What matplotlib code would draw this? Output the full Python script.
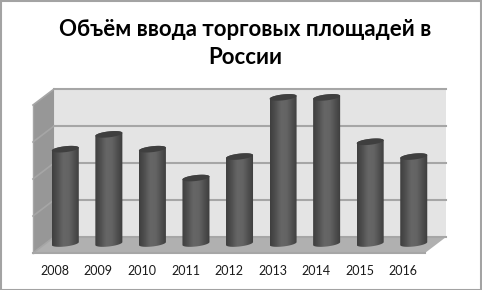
import numpy as np
import matplotlib

matplotlib.use('Agg')
import matplotlib.pyplot as plt
from matplotlib.colors import LinearSegmentedColormap
from matplotlib.patches import PathPatch, Polygon, Rectangle
from matplotlib.path import Path

plt.rcParams['font.family'] = ['Lato', 'Open Sans', 'DejaVu Sans']

years = ['2008', '2009', '2010', '2011', '2012', '2013', '2014', '2015', '2016']
values = [2.55, 2.95, 2.55, 1.77, 2.35, 3.95, 3.95, 2.75, 2.35]
grid_levels = [0, 1, 2, 3, 4]
title_lines = ['Объём ввода торговых площадей в', 'России']

# depth of the fake 3D box, in data units
DX = 0.483
DY = 0.432
BAR_A = 0.31
BAR_B = 0.08
BAR_TILT = 0.04
BAR_LIFT = 0.04

bar_cmap = LinearSegmentedColormap.from_list(
    'cyl', ['#3e3e3e', '#505050', '#666666', '#646464', '#505050', '#3c3c3c'])


def project(x, y, depth):
    return x + depth * DX, y + depth * DY


def ellipse_xy(cx, cy, t):
    return cx + BAR_A * np.cos(t), cy + BAR_B * np.sin(t) + BAR_TILT * np.cos(t)


def draw_bar(ax, i, value):
    cx, base = project(i, 0, 0.5)
    base = base + BAR_LIFT
    top = base + value
    # outline: lower half of the bottom ellipse then back over the top
    t_low = np.linspace(np.pi, 2 * np.pi, 40)
    t_top = np.linspace(0, np.pi, 40)
    xb, yb = ellipse_xy(cx, base, t_low)
    xt, yt = ellipse_xy(cx, top, t_top)
    body = Path(np.column_stack([np.r_[xb, xt], np.r_[yb, yt]]))

    grad = np.linspace(0, 1, 64).reshape(1, -1)
    im = ax.imshow(grad, cmap=bar_cmap, aspect='auto', zorder=4,
                   extent=(cx - BAR_A, cx + BAR_A, base - 0.3, top + 0.3))
    patch = PathPatch(body, transform=ax.transData, fc='none', ec='none')
    ax.add_patch(patch)
    im.set_clip_path(patch)
    im.set_clip_box(fig.bbox)

    t = np.linspace(0, 2 * np.pi, 80)
    xc, yc = ellipse_xy(cx, top, t)
    ax.fill(xc, yc, color='#3f3f3f', lw=0, zorder=5, clip_on=False)


fig = plt.figure(figsize=(4.82, 2.9), dpi=100)
ax = fig.add_axes([33 / 482, (290 - 253) / 290, 392 / 482, 148 / 290])

x0, x1 = -0.5, 8.5
y0, y1 = grid_levels[0], grid_levels[-1]

back = [project(x0, y0, 1), project(x1, y0, 1), project(x1, y1, 1), project(x0, y1, 1)]
left = [(x0, y0), project(x0, y0, 1), project(x0, y1, 1), (x0, y1)]
floor = [(x0, y0), (x1, y0), project(x1, y0, 1), project(x0, y0, 1)]
ax.add_patch(Polygon(back, fc='#e4e4e4', ec='none', zorder=1, clip_on=False))
ax.add_patch(Polygon(left, fc='#979797', ec='none', zorder=1, clip_on=False))
ax.add_patch(Polygon(floor, fc='#b0b0b0', ec='none', zorder=2, clip_on=False))

for level in grid_levels:
    xa, ya = project(x0, level, 1)
    xb, yb = project(x1, level, 1)
    ax.plot([xa, xb], [ya, yb], color='#a6a6a6', lw=1.5, zorder=2, clip_on=False)
    ax.plot([x0, xa], [level, ya], color='#a6a6a6', lw=1.2, zorder=2, clip_on=False)
ax.plot([x0, x1], [y0, y0], color='#a6a6a6', lw=1.5, zorder=3, clip_on=False)
ax.plot([x0, x0], [y0, y1], color='#a6a6a6', lw=1.0, zorder=3, clip_on=False)

for i, value in enumerate(values):
    draw_bar(ax, i, value)

ax.set_xlim(x0, x1)
ax.set_ylim(y0, y1)
ax.set_xticks(range(len(years)))
ax.set_xticklabels(years, fontsize=9, color='#1a1a1a')
ax.tick_params(axis='x', length=0, pad=8.5)
ax.set_yticks([])
for spine in ax.spines.values():
    spine.set_visible(False)
ax.patch.set_visible(False)

fig.text(245.5 / 482, 1 - 29 / 290, title_lines[0], ha='center', va='center',
         fontsize=16, fontweight='bold', color='black')
fig.text(245.5 / 482, 1 - 57 / 290, title_lines[1], ha='center', va='center',
         fontsize=16, fontweight='bold', color='black')

fig.add_artist(Rectangle((0.5 / 482, 0.5 / 290), 480.5 / 482, 288.5 / 290, transform=fig.transFigure,
                         fc='none', ec='#a3a3a3', lw=1.5))

fig.savefig('out.png', dpi=100)
plt.close(fig)
